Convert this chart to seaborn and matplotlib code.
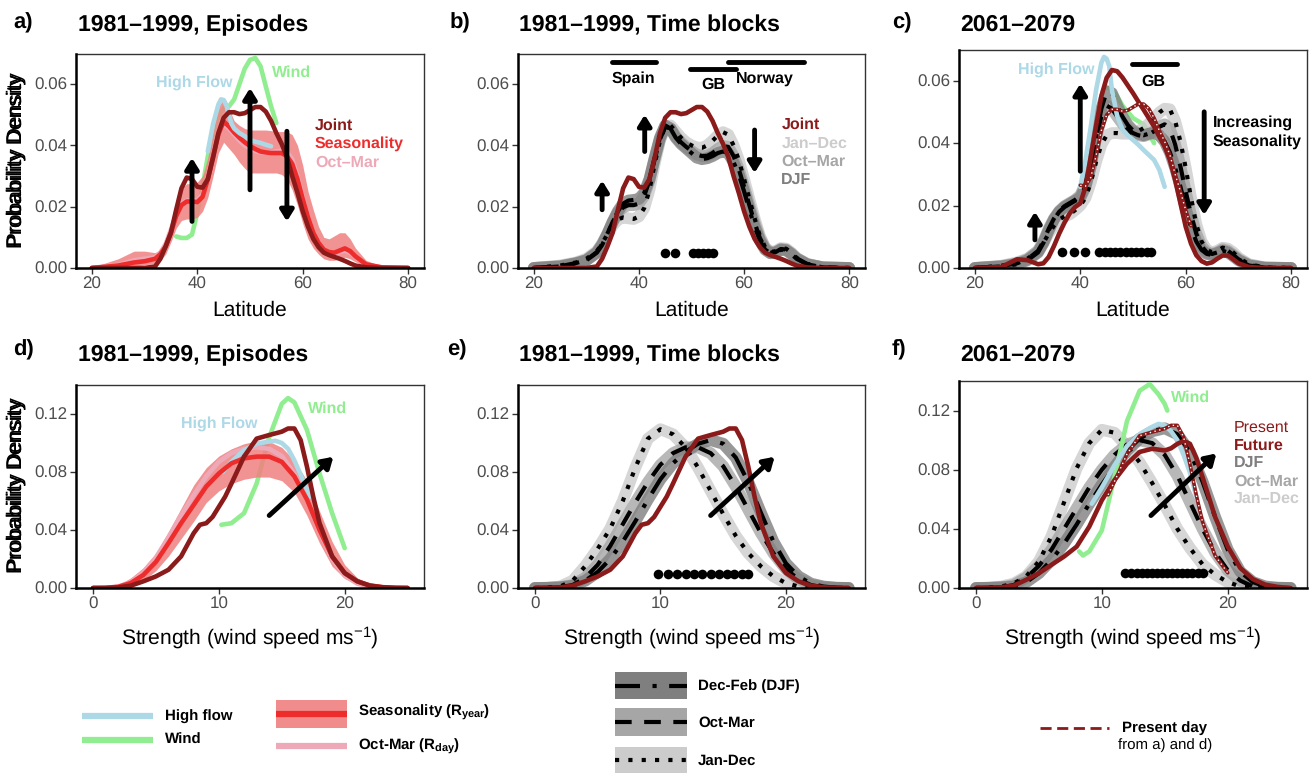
import numpy as np
import matplotlib
matplotlib.use("Agg")
import matplotlib.pyplot as plt
import seaborn as sns
from matplotlib.patches import Rectangle

sns.set_theme(style="white")
plt.rcParams['font.family'] = ['Liberation Sans', 'DejaVu Sans']
plt.rcParams['mathtext.fontset'] = 'custom'
plt.rcParams['mathtext.rm'] = 'Liberation Sans'
plt.rcParams['mathtext.it'] = 'Liberation Sans:italic'
plt.rcParams['mathtext.bf'] = 'Liberation Sans:bold'
plt.rcParams['text.color'] = 'black'
plt.rcParams['axes.labelcolor'] = 'black'
plt.rcParams['text.hinting'] = 'no_hinting'
plt.rcParams['text.hinting_factor'] = 1

# ---------------- DATA ----------------
LAT_GRID = [20, 25, 28, 30, 32, 33, 34, 35, 36, 37, 38, 39, 40, 41, 42, 43, 44, 45, 46, 47, 48, 49, 50,
            51, 52, 53, 54, 55, 56, 57, 58, 59, 60, 61, 62, 63, 64, 65, 66, 67, 68, 69, 70, 72, 75, 80]

JOINT_PRESENT_LAT = [0, 0, 0, 0, 0.0005, 0.003, 0.007, 0.0115, 0.019, 0.026, 0.0295, 0.029, 0.0265, 0.0262, 0.029,
                     0.036, 0.044, 0.049, 0.0508, 0.0508, 0.0502, 0.0505, 0.0515, 0.0525, 0.0525,
                     0.051, 0.048, 0.044, 0.0405, 0.0362, 0.030, 0.0245, 0.0185, 0.0135, 0.0095,
                     0.0068, 0.005, 0.0042, 0.0036, 0.003, 0.0023, 0.0015, 0.0008, 0.0002, 0, 0]
SEAS_LAT = [0, 0.0008, 0.0018, 0.0022, 0.003, 0.0045, 0.007, 0.0115, 0.017, 0.0205, 0.0217, 0.0217, 0.0215, 0.0232, 0.029,
            0.0365, 0.0435, 0.0478, 0.0462, 0.0442, 0.0425, 0.041, 0.0398, 0.0388, 0.038,
            0.0377, 0.0375, 0.0375, 0.0375, 0.0365, 0.034, 0.029, 0.0225, 0.0165, 0.0115,
            0.0082, 0.006, 0.0052, 0.005, 0.0057, 0.0064, 0.0055, 0.0038, 0.0012, 0.0002, 0]
SEAS_HI_LAT = [0.0002, 0.003, 0.0055, 0.0055, 0.005, 0.006, 0.0095, 0.015, 0.0215, 0.026, 0.0275, 0.0275, 0.028, 0.030, 0.036,
               0.045, 0.0525, 0.0553, 0.052, 0.048, 0.0465, 0.0455, 0.045, 0.045, 0.045,
               0.045, 0.0448, 0.0445, 0.0445, 0.0445, 0.0435, 0.040, 0.0335, 0.025, 0.019,
               0.0135, 0.010, 0.0095, 0.0105, 0.0115, 0.0115, 0.0095, 0.0065, 0.0025, 0.0005, 0]
SEAS_LO_LAT = [0, 0, 0.0005, 0.001, 0.0015, 0.0025, 0.0045, 0.0085, 0.013, 0.0155, 0.016, 0.016, 0.0165, 0.0185, 0.023,
               0.030, 0.0375, 0.041, 0.039, 0.037, 0.0345, 0.0325, 0.031, 0.031, 0.031,
               0.031, 0.031, 0.031, 0.0305, 0.029, 0.0255, 0.0205, 0.0145, 0.0095, 0.0065,
               0.0045, 0.003, 0.0025, 0.0025, 0.003, 0.0035, 0.003, 0.002, 0.0005, 0, 0]
OCTMAR_DAY_LAT = [0, 0.001, 0.0025, 0.003, 0.0035, 0.005, 0.0078, 0.0125, 0.0175, 0.021, 0.022, 0.022, 0.022, 0.024, 0.0295,
                  0.037, 0.0435, 0.047, 0.0455, 0.0435, 0.0415, 0.040, 0.039, 0.0382, 0.0377,
                  0.0376, 0.0377, 0.038, 0.0383, 0.038, 0.0355, 0.030, 0.023, 0.0165, 0.0112,
                  0.0078, 0.0058, 0.005, 0.0048, 0.0052, 0.0057, 0.005, 0.0035, 0.0011, 0.0002, 0]

HIGHFLOW_A_X = [42, 43, 44, 44.5, 45, 45.5, 46, 46.5, 47, 48, 49, 50, 51, 52, 53, 54]
HIGHFLOW_A_Y = [0.038, 0.047, 0.0533, 0.055, 0.0548, 0.0532, 0.050, 0.047, 0.0455, 0.044, 0.043, 0.0418, 0.0412, 0.0408, 0.0402, 0.0397]
WIND_A_X = [36, 37, 38, 39, 40, 41, 42, 43, 44, 45, 46, 47, 48, 49, 50, 51, 52, 53, 54, 55]
WIND_A_Y = [0.0103, 0.0098, 0.0098, 0.0109, 0.018, 0.0266, 0.0364, 0.044, 0.0495, 0.052, 0.0527, 0.055, 0.060, 0.065,
            0.0679, 0.0685, 0.0658, 0.0592, 0.0527, 0.0473]

DJF_B = [0, 0.0005, 0.0015, 0.0025, 0.005, 0.0075, 0.011, 0.015, 0.0185, 0.021, 0.022, 0.0222, 0.0225, 0.0245, 0.029,
         0.036, 0.0425, 0.0465, 0.0455, 0.0425, 0.0405, 0.039, 0.0375, 0.036, 0.0355,
         0.0358, 0.0365, 0.0375, 0.038, 0.0375, 0.0345, 0.0305, 0.025, 0.019, 0.0135,
         0.009, 0.006, 0.0048, 0.005, 0.006, 0.0058, 0.0045, 0.003, 0.0012, 0.0002, 0]
OCTMAR_B = [0, 0.0006, 0.0016, 0.0026, 0.0052, 0.0078, 0.0112, 0.015, 0.018, 0.0198, 0.0205, 0.0205, 0.021, 0.0235, 0.0285,
            0.0355, 0.042, 0.046, 0.0455, 0.043, 0.041, 0.0395, 0.0382, 0.037, 0.0365,
            0.0366, 0.0375, 0.0388, 0.0398, 0.0395, 0.0365, 0.0322, 0.0265, 0.0205, 0.0148,
            0.0098, 0.0065, 0.005, 0.0052, 0.0062, 0.006, 0.0048, 0.0032, 0.0013, 0.0002, 0]
JANDEC_B = [0, 0.0008, 0.0018, 0.003, 0.0055, 0.008, 0.011, 0.0138, 0.0158, 0.0165, 0.0162, 0.016, 0.0168, 0.0195, 0.0255,
            0.034, 0.0415, 0.0462, 0.0465, 0.0445, 0.0425, 0.041, 0.040, 0.0393, 0.0392,
            0.040, 0.0415, 0.0432, 0.0443, 0.0435, 0.040, 0.0352, 0.029, 0.0225, 0.0162,
            0.0105, 0.0068, 0.0052, 0.0055, 0.0065, 0.0063, 0.005, 0.0033, 0.0013, 0.0002, 0]

FUTURE_C = [0, 0.0003, 0.0028, 0.0025, 0.0012, 0.0015, 0.0035, 0.007, 0.011, 0.0145, 0.0175, 0.0195, 0.0207, 0.026, 0.0357,
            0.0455, 0.055, 0.0609, 0.0634, 0.063, 0.061, 0.0585, 0.056, 0.0533, 0.0507,
            0.048, 0.0453, 0.042, 0.0389, 0.0346, 0.0282, 0.0207, 0.0132, 0.0078, 0.0041,
            0.0022, 0.0014, 0.0018, 0.003, 0.004, 0.004, 0.0028, 0.0015, 0.0003, 0, 0]
DJF_C = [0, 0.0005, 0.0012, 0.0025, 0.005, 0.008, 0.012, 0.0155, 0.018, 0.0195, 0.0205, 0.0215, 0.0225, 0.026, 0.0325,
         0.042, 0.051, 0.0565, 0.056, 0.052, 0.0485, 0.0458, 0.044, 0.043, 0.0425,
         0.043, 0.0432, 0.0425, 0.0405, 0.037, 0.032, 0.026, 0.019, 0.013, 0.0085,
         0.0058, 0.0045, 0.0042, 0.0048, 0.0055, 0.005, 0.0038, 0.0025, 0.0008, 0.0001, 0]
OCTMAR_C = [0, 0.0006, 0.0015, 0.0028, 0.0055, 0.0085, 0.0125, 0.0158, 0.0182, 0.0198, 0.0208, 0.0218, 0.0232, 0.027, 0.0335,
            0.0415, 0.0485, 0.052, 0.051, 0.0485, 0.0462, 0.0445, 0.0432, 0.0425, 0.0422,
            0.0428, 0.0438, 0.0452, 0.046, 0.0445, 0.0395, 0.0325, 0.0245, 0.017, 0.011,
            0.007, 0.005, 0.0045, 0.005, 0.006, 0.0055, 0.0042, 0.0028, 0.001, 0.0001, 0]
JANDEC_C = [0, 0.0007, 0.0018, 0.003, 0.0055, 0.008, 0.011, 0.0135, 0.0155, 0.0165, 0.0172, 0.0185, 0.020, 0.0225, 0.0275,
            0.034, 0.0395, 0.0425, 0.0432, 0.0432, 0.043, 0.043, 0.0432, 0.0438, 0.0448,
            0.0462, 0.048, 0.0498, 0.051, 0.0508, 0.047, 0.0405, 0.032, 0.0225, 0.014,
            0.0085, 0.0058, 0.005, 0.0055, 0.0065, 0.0062, 0.005, 0.0033, 0.0012, 0.0002, 0]
HIGHFLOW_C_X = [40, 41, 42, 43, 44, 44.5, 45, 45.5, 46, 47, 48, 49, 50, 51, 52, 53, 54, 55, 56]
HIGHFLOW_C_Y = [0.026, 0.0346, 0.0453, 0.057, 0.0657, 0.0676, 0.067, 0.0646, 0.057, 0.0486, 0.0443, 0.0425, 0.041,
                0.0395, 0.0378, 0.0362, 0.0346, 0.0314, 0.026]
WIND_C_X = [45, 46, 47, 48, 49, 50, 51, 52, 53, 54]
WIND_C_Y = [0.058, 0.057, 0.055, 0.052, 0.050, 0.048, 0.047, 0.046, 0.043, 0.040]
PRESENT_LAT_RANGE = (40, 61)      # part of the present-day curve shown in c)
PRESENT_STR_RANGE = (10.5, 20)    # part of the present-day curve shown in f)

REGION_NAMES = ["Spain", "GB", "Norway"]
REGION_START = [34.8, 49.8, 56.9]
REGION_END = [43.3, 58.4, 71.4]
REGION_Y = [0.0671, 0.0649, 0.0671]
GB_C_START, GB_C_END, GB_C_Y = 49.8, 58.4, 0.0652

DOTS_B = [45, 46.8, 50.3, 51.2, 52.2, 53.1, 54.0]
DOTS_C = [36.6, 38.9, 40.9, 43.6, 44.6, 45.6, 46.6, 47.6, 48.6, 49.6, 50.6, 51.6, 52.6, 53.5]
DOTS_E = [9.8, 10.6, 11.3, 12.0, 12.7, 13.3, 14.0, 14.7, 15.3, 15.9, 16.5, 17.0]
DOTS_F = [11.8, 12.3, 12.8, 13.2, 13.6, 14.0, 14.4, 14.8, 15.2, 15.6, 16.0, 16.4, 16.8, 17.2, 17.6, 18.0]
DOT_Y_LAT = 0.005
DOT_Y_STR = 0.01

ARROWS_A = dict(x=[39, 50, 57], y0=[0.0152, 0.0255, 0.0446], y1=[0.0359, 0.0587, 0.0152])
ARROWS_B = dict(x=[33, 41.1, 62], y0=[0.019, 0.038, 0.045], y1=[0.0285, 0.050, 0.031])
ARROWS_C = dict(x=[31.4, 40, 63.5], y0=[0.009, 0.031, 0.050], y1=[0.018, 0.059, 0.017])
ARROW_D = dict(x0=14.0, y0=0.050, x1=19.1, y1=0.0905)
ARROW_E = dict(x0=14.0, y0=0.050, x1=19.1, y1=0.0905)
ARROW_F = dict(x0=13.9, y0=0.049, x1=19.1, y1=0.091)

STR_GRID = [0, 1, 2, 3, 4, 5, 6, 7, 8, 9, 10, 11, 12, 13, 14, 15, 16, 17, 18, 19, 20, 21, 22, 23, 24, 25]
JOINT_STR_X = [0, 1, 2, 3, 4, 5, 6, 7, 8, 8.5, 9, 9.5, 10, 10.5, 11, 12, 13, 14, 15, 15.5, 16, 16.5, 17, 17.5,
               18, 19, 20, 21, 22, 23, 24, 25]
JOINT_STR_Y = [0, 0, 0.0004, 0.0016, 0.0046, 0.008, 0.0126, 0.0218, 0.0378, 0.0436, 0.0447, 0.049, 0.056, 0.063,
               0.072, 0.0906, 0.103, 0.1055, 0.1078, 0.110, 0.110, 0.102, 0.0837, 0.063, 0.0447, 0.0218, 0.0103,
               0.0046, 0.0016, 0.0005, 0.0001, 0]
SEAS_STR = [0, 0.0001, 0.0008, 0.0034, 0.009, 0.018, 0.031, 0.0447, 0.0573, 0.070, 0.079, 0.086, 0.0894, 0.0906,
            0.0906, 0.087, 0.077, 0.061, 0.040, 0.0218, 0.0103, 0.0046, 0.0018, 0.0006, 0.0001, 0]
SEAS_HI_STR = [0, 0.0003, 0.002, 0.007, 0.014, 0.024, 0.039, 0.055, 0.071, 0.083, 0.091, 0.096, 0.0995, 0.1015,
               0.101, 0.097, 0.088, 0.074, 0.053, 0.032, 0.016, 0.007, 0.0028, 0.001, 0.0002, 0]
SEAS_LO_STR = [0, 0, 0.0003, 0.0015, 0.005, 0.012, 0.022, 0.034, 0.046, 0.059, 0.067, 0.072, 0.075, 0.0765,
               0.0765, 0.074, 0.066, 0.050, 0.031, 0.015, 0.0065, 0.0025, 0.0008, 0.0002, 0, 0]
OCTMAR_DAY_STR = [0, 0.0001, 0.001, 0.004, 0.011, 0.021, 0.035, 0.050, 0.064, 0.077, 0.087, 0.093, 0.096, 0.097,
                  0.096, 0.091, 0.079, 0.061, 0.039, 0.020, 0.0085, 0.003, 0.001, 0.0003, 0, 0]
HIGHFLOW_D_X = [10.3, 11, 12, 13, 14, 14.5, 15, 15.5, 16, 16.5, 17, 17.3]
HIGHFLOW_D_Y = [0.080, 0.087, 0.095, 0.0995, 0.101, 0.1015, 0.100, 0.096, 0.088, 0.078, 0.068, 0.063]
WIND_D_X = [10.2, 11, 12, 13, 14, 15, 15.5, 16, 17, 18, 19, 20]
WIND_D_Y = [0.0436, 0.0447, 0.0516, 0.072, 0.104, 0.127, 0.131, 0.128, 0.109, 0.079, 0.0516, 0.0275]

JANDEC_E = [0, 0.0002, 0.001, 0.005, 0.015, 0.027, 0.041, 0.060, 0.083, 0.103, 0.1095, 0.106, 0.097, 0.083,
            0.067, 0.051, 0.036, 0.024, 0.015, 0.008, 0.0034, 0.001, 0.0003, 0.0001, 0, 0]
OCTMAR_E = [0, 0.0001, 0.0006, 0.002, 0.007, 0.016, 0.029, 0.044, 0.059, 0.073, 0.085, 0.093, 0.097, 0.097,
            0.093, 0.084, 0.070, 0.054, 0.038, 0.024, 0.013, 0.006, 0.002, 0.0005, 0.0001, 0]
DJF_E = [0, 0.0001, 0.0004, 0.0015, 0.005, 0.011, 0.020, 0.032, 0.046, 0.061, 0.075, 0.086, 0.094, 0.0995,
         0.102, 0.0995, 0.090, 0.073, 0.052, 0.032, 0.017, 0.008, 0.003, 0.001, 0.0002, 0]

FUTURE_F_X = [0, 1, 2, 3, 4, 5, 6, 7, 8, 9, 10, 11, 12, 13, 14, 15, 15.5, 16, 16.5, 17, 17.5, 18, 19, 20, 21,
              22, 23, 24, 25]
FUTURE_F_Y = [0, 0.0001, 0.0005, 0.0016, 0.0056, 0.010, 0.0157, 0.0213, 0.028, 0.0415, 0.0594, 0.0729, 0.084,
              0.092, 0.0942, 0.093, 0.0945, 0.0975, 0.0995, 0.0975, 0.088, 0.075, 0.048, 0.028, 0.0135, 0.006,
              0.0022, 0.0007, 0]
JANDEC_F = [0, 0.0002, 0.001, 0.003, 0.008, 0.018, 0.035, 0.058, 0.081, 0.098, 0.107, 0.105, 0.096, 0.085,
            0.071, 0.056, 0.040, 0.027, 0.016, 0.009, 0.004, 0.001, 0.0002, 0, 0, 0]
OCTMAR_F = [0, 0.0001, 0.0005, 0.002, 0.007, 0.015, 0.026, 0.040, 0.054, 0.068, 0.080, 0.090, 0.097, 0.100,
            0.098, 0.090, 0.076, 0.058, 0.040, 0.024, 0.012, 0.005, 0.001, 0.0002, 0, 0]
DJF_F = [0, 0.0001, 0.0004, 0.001, 0.004, 0.010, 0.019, 0.030, 0.043, 0.057, 0.070, 0.082, 0.093, 0.101,
         0.106, 0.108, 0.104, 0.092, 0.072, 0.048, 0.026, 0.011, 0.004, 0.001, 0.0002, 0]
HIGHFLOW_F_X = [9.2, 10, 11, 12, 13, 14, 14.5, 15, 15.5, 16, 16.5, 17, 17.5]
HIGHFLOW_F_Y = [0.057, 0.068, 0.083, 0.096, 0.104, 0.109, 0.111, 0.110, 0.106, 0.100, 0.090, 0.078, 0.062]
WIND_F_X = [8.2, 8.5, 9, 10, 11, 12, 13, 13.8, 14.5, 15, 15.2]
WIND_F_Y = [0.0247, 0.022, 0.0247, 0.039, 0.075, 0.113, 0.1334, 0.1379, 0.131, 0.1244, 0.12]

LAT_TICKS = [20, 40, 60, 80]
LAT_YTICKS = [0.00, 0.02, 0.04, 0.06]
STR_TICKS = [0, 10, 20]
STR_YTICKS = [0.00, 0.04, 0.08, 0.12]

# ---------------- STYLE ----------------
C_HF = "#ADD8E6"
C_WIND = "#90EE90"
C_SEAS = "#EE2C2C"
C_BAND = "#F08080"
C_PINK = "#EEA9B8"
C_JOINT = "#8B1A1A"
C_DJF = "#7F7F7F"
C_OCT = "#A6A6A6"
C_JAN = "#CCCCCC"
DASH_DJF = (0, (6, 3, 1, 3))
DASH_OCT = (0, (4, 3))
DASH_JAN = (0, (1, 2.2))

W, H = 1313, 773
fig = plt.figure(figsize=(W / 100, H / 100), dpi=100)


def px_axes(left, right, top, bottom):
    return fig.add_axes([left / W, 1 - bottom / H, (right - left) / W, (bottom - top) / H])


def ln(ax, x, y, color, lw, z, dash=None, alpha=1.0, cap="round"):
    sns.lineplot(x=np.asarray(x, float), y=np.asarray(y, float), ax=ax, color=color, lw=lw,
                 estimator=None, sort=False, legend=False, zorder=z, alpha=alpha)
    line = ax.lines[-1]
    if dash is not None:
        line.set_linestyle(dash)
        line.set_dash_capstyle("butt")
    line.set_solid_capstyle(cap)
    line.set_solid_joinstyle("round")
    return line


def present_line(ax, x, y, rng):
    x = np.asarray(x, float)
    y = np.asarray(y, float)
    m = (x >= rng[0]) & (x <= rng[1])
    ln(ax, x[m], y[m], C_JOINT, 2.6, 8)
    ln(ax, x[m], y[m], "white", 1.0, 9, dash=(0, (1, 2.5)))


def style(ax, kind):
    if kind == "lat":
        ax.set_xlim(17, 83)
        ax.set_ylim(0, 0.0698)
        ax.set_xticks(LAT_TICKS)
        ax.set_yticks(LAT_YTICKS)
        ax.set_yticklabels(["%.2f" % v for v in LAT_YTICKS])
        ax.set_xlabel("Latitude", fontsize=15, color="black")
    else:
        ax.set_xlim(-1.35, 26.3)
        ax.set_ylim(0, 0.14)
        ax.set_xticks(STR_TICKS)
        ax.set_yticks(STR_YTICKS)
        ax.set_yticklabels(["%.2f" % v for v in STR_YTICKS])
        ax.set_xlabel("Strength (wind speed ms$^{-1}$)", fontsize=15, color="black")
    ax.set_ylabel("Probability Density", fontsize=15, color="black", fontweight="normal")
    ax.set_facecolor("white")
    ax.grid(False)
    for s in ["left", "bottom"]:
        ax.spines[s].set_color("black")
        ax.spines[s].set_linewidth(1.8)
        ax.spines[s].set_zorder(20)
    for s in ["top", "right"]:
        ax.spines[s].set_color("#333333")
        ax.spines[s].set_linewidth(1.0)
    ax.tick_params(axis="both", which="both", direction="out", length=4, width=1, color="#333333",
                   labelsize=12, labelcolor="#4D4D4D", left=True, bottom=True, pad=2)


def arrow(ax, x0, y0, x1, y1):
    ax.annotate("", xy=(x1, y1), xytext=(x0, y0), zorder=15,
                arrowprops=dict(arrowstyle="-|>,head_length=0.45,head_width=0.28", lw=3.5, color="black",
                                shrinkA=0, shrinkB=0, mutation_scale=14))


def label(ax, x, y, s, color, weight="bold", ha="left", size=11.5):
    ax.text(x, y, s, color=color, fontsize=size, fontweight=weight, ha=ha, va="center", zorder=16)


def grey_bands_and_lines(ax, x, djf, octm, jan):
    for y, c in [(jan, C_JAN), (octm, C_OCT), (djf, C_DJF)]:
        ln(ax, x, y, c, 8.5, 3, alpha=0.8)
    ln(ax, x, jan, "black", 3.0, 5, dash=DASH_JAN)
    ln(ax, x, octm, "black", 3.0, 5, dash=DASH_OCT)
    ln(ax, x, djf, "black", 3.0, 5, dash=DASH_DJF)


# ---------------- PANEL a ----------------
ax = px_axes(76, 424, 54, 268)
ln(ax, WIND_A_X, WIND_A_Y, C_WIND, 3.3, 2)
ax.fill_between(LAT_GRID, SEAS_LO_LAT, SEAS_HI_LAT, color=C_BAND, alpha=0.85, lw=0, zorder=3)
ln(ax, LAT_GRID, OCTMAR_DAY_LAT, C_PINK, 3.3, 4)
ln(ax, LAT_GRID, SEAS_LAT, C_SEAS, 3.3, 5)
ln(ax, HIGHFLOW_A_X, HIGHFLOW_A_Y, C_HF, 3.3, 6)
ln(ax, LAT_GRID, JOINT_PRESENT_LAT, C_JOINT, 3.3, 7)
for x, y0, y1 in zip(ARROWS_A["x"], ARROWS_A["y0"], ARROWS_A["y1"]):
    arrow(ax, x, y0, x, y1)
label(ax, 32.2, 0.0605, "High Flow", C_HF)
label(ax, 54.2, 0.0638, "Wind", C_WIND)
label(ax, 62.3, 0.0463, "Joint", C_JOINT)
label(ax, 62.3, 0.0405, "Seasonality", C_SEAS)
label(ax, 62.3, 0.0345, "Oct\u2013Mar", C_PINK)
style(ax, "lat")

# ---------------- PANEL b ----------------
ax = px_axes(518, 865, 54, 268)
grey_bands_and_lines(ax, LAT_GRID, DJF_B, OCTMAR_B, JANDEC_B)
ln(ax, LAT_GRID, JOINT_PRESENT_LAT, C_JOINT, 3.3, 7)
for x, y0, y1 in zip(ARROWS_B["x"], ARROWS_B["y0"], ARROWS_B["y1"]):
    arrow(ax, x, y0, x, y1)
for xs, xe, yv in zip(REGION_START, REGION_END, REGION_Y):
    ln(ax, [xs, xe], [yv, yv], "black", 3.5, 8)
label(ax, 39.0, 0.0617, "Spain", "black", ha="center")
label(ax, 54.1, 0.0599, "GB", "black", ha="center")
label(ax, 64.0, 0.0617, "Norway", "black", ha="center")
sns.scatterplot(x=DOTS_B, y=[DOT_Y_LAT] * len(DOTS_B), ax=ax, color="black", s=48, linewidth=0, zorder=12, legend=False)
label(ax, 67.1, 0.0466, "Joint", C_JOINT)
label(ax, 67.1, 0.0406, "Jan\u2013Dec", C_JAN)
label(ax, 67.1, 0.0346, "Oct\u2013Mar", C_OCT)
label(ax, 67.1, 0.0287, "DJF", C_DJF)
style(ax, "lat")

# ---------------- PANEL c ----------------
ax = px_axes(959, 1307, 50, 268)
ln(ax, WIND_C_X, WIND_C_Y, C_WIND, 3.3, 2)
grey_bands_and_lines(ax, LAT_GRID, DJF_C, OCTMAR_C, JANDEC_C)
ln(ax, HIGHFLOW_C_X, HIGHFLOW_C_Y, C_HF, 3.3, 6)
ln(ax, LAT_GRID, FUTURE_C, C_JOINT, 3.3, 7)
present_line(ax, LAT_GRID, JOINT_PRESENT_LAT, PRESENT_LAT_RANGE)
for x, y0, y1 in zip(ARROWS_C["x"], ARROWS_C["y0"], ARROWS_C["y1"]):
    arrow(ax, x, y0, x, y1)
ln(ax, [GB_C_START, GB_C_END], [GB_C_Y, GB_C_Y], "black", 3.5, 8)
label(ax, 53.9, 0.0598, "GB", "black", ha="center")
sns.scatterplot(x=DOTS_C, y=[DOT_Y_LAT] * len(DOTS_C), ax=ax, color="black", s=48, linewidth=0, zorder=12, legend=False)
label(ax, 28.1, 0.0637, "High Flow", C_HF)
label(ax, 65.1, 0.0466, "Increasing", "black")
label(ax, 65.1, 0.0405, "Seasonality", "black")
style(ax, "lat")

# ---------------- PANEL d ----------------
ax = px_axes(76, 424, 385, 588)
ln(ax, WIND_D_X, WIND_D_Y, C_WIND, 3.3, 2)
ax.fill_between(STR_GRID, SEAS_LO_STR, SEAS_HI_STR, color=C_BAND, alpha=0.85, lw=0, zorder=3)
ln(ax, STR_GRID, OCTMAR_DAY_STR, C_PINK, 3.3, 4)
ln(ax, HIGHFLOW_D_X, HIGHFLOW_D_Y, C_HF, 3.3, 5)
ln(ax, STR_GRID, SEAS_STR, C_SEAS, 3.3, 6)
ln(ax, JOINT_STR_X, JOINT_STR_Y, C_JOINT, 3.3, 7)
arrow(ax, ARROW_D["x0"], ARROW_D["y0"], ARROW_D["x1"], ARROW_D["y1"])
label(ax, 7.0, 0.1135, "High Flow", C_HF)
label(ax, 17.1, 0.1234, "Wind", C_WIND)
style(ax, "str")

# ---------------- PANEL e ----------------
ax = px_axes(518, 865, 385, 588)
grey_bands_and_lines(ax, STR_GRID, DJF_E, OCTMAR_E, JANDEC_E)
ln(ax, JOINT_STR_X, JOINT_STR_Y, C_JOINT, 3.3, 7)
arrow(ax, ARROW_E["x0"], ARROW_E["y0"], ARROW_E["x1"], ARROW_E["y1"])
sns.scatterplot(x=DOTS_E, y=[DOT_Y_STR] * len(DOTS_E), ax=ax, color="black", s=48, linewidth=0, zorder=12, legend=False)
style(ax, "str")

# ---------------- PANEL f ----------------
ax = px_axes(959, 1307, 381, 588)
grey_bands_and_lines(ax, STR_GRID, DJF_F, OCTMAR_F, JANDEC_F)
ln(ax, WIND_F_X, WIND_F_Y, C_WIND, 3.3, 6)
ln(ax, HIGHFLOW_F_X, HIGHFLOW_F_Y, C_HF, 3.3, 6)
ln(ax, FUTURE_F_X, FUTURE_F_Y, C_JOINT, 3.3, 7)
present_line(ax, JOINT_STR_X, JOINT_STR_Y, PRESENT_STR_RANGE)
arrow(ax, ARROW_F["x0"], ARROW_F["y0"], ARROW_F["x1"], ARROW_F["y1"])
sns.scatterplot(x=DOTS_F, y=[DOT_Y_STR] * len(DOTS_F), ax=ax, color="black", s=48, linewidth=0, zorder=12, legend=False)
label(ax, 15.5, 0.1285, "Wind", C_WIND)
label(ax, 20.5, 0.1087, "Present", C_JOINT, weight="normal")
label(ax, 20.5, 0.0964, "Future", C_JOINT)
label(ax, 20.5, 0.0845, "DJF", C_DJF)
label(ax, 20.5, 0.0722, "Oct\u2013Mar", C_OCT)
label(ax, 20.5, 0.0605, "Jan\u2013Dec", C_JAN)
style(ax, "str")

# axis label positions
for a in fig.axes:
    hpx = a.get_position().height * H
    wpx = a.get_position().width * W
    a.yaxis.set_label_coords(-(a.get_position().x0 * W - 26) / wpx, 0.5)
    off = 33 if a.get_xlabel() == "Latitude" else 36
    a.xaxis.set_label_coords(0.5, -off / hpx)

# ---------------- TITLES ----------------
titles = [("a)", 13, 23, "1981\u20131999, Episodes", 78, 25),
          ("b)", 450, 23, "1981\u20131999, Time blocks", 519, 25),
          ("c)", 892, 23, "2061\u20132079", 960, 25),
          ("d)", 13, 350, "1981\u20131999, Episodes", 78, 355),
          ("e)", 447, 350, "1981\u20131999, Time blocks", 519, 355),
          ("f)", 892, 350, "2061\u20132079", 960, 355)]
for let, lx, ly, t, tx, ty in titles:
    fig.text(lx / W, 1 - ly / H, let, fontsize=16, fontweight="bold", ha="left", va="center", color="black")
    fig.text(tx / W, 1 - ty / H, t, fontsize=16.5, fontweight="bold", ha="left", va="center", color="black")

# ---------------- LEGENDS ----------------
lg = fig.add_axes([0, 0, 1, 1], zorder=-5)
lg.set_xlim(0, W)
lg.set_ylim(H, 0)
lg.axis("off")
lg.plot([82, 153], [716, 716], color=C_HF, lw=4.5, solid_capstyle="butt")
lg.plot([82, 153], [740, 740], color=C_WIND, lw=4.5, solid_capstyle="butt")
lg.text(165, 717, "High flow", fontsize=11, fontweight="bold", va="center")
lg.text(165, 740, "Wind", fontsize=11, fontweight="bold", va="center")
lg.add_patch(Rectangle((276, 700), 71, 28, color=C_BAND, alpha=0.9, lw=0))
lg.plot([276, 347], [713.5, 713.5], color=C_SEAS, lw=4.5, solid_capstyle="butt")
lg.plot([276, 347], [746, 746], color=C_PINK, lw=4.5, solid_capstyle="butt")
lg.text(358, 712, r"Seasonality ($\mathbf{R_{year}}$)", fontsize=11, fontweight="bold", va="center")
lg.text(358, 746, r"Oct-Mar ($\mathbf{R_{day}}$)", fontsize=11, fontweight="bold", va="center")
for (y0, y1, c, d, t) in [(672, 699, C_DJF, DASH_DJF, "Dec-Feb (DJF)"),
                          (708, 736, C_OCT, DASH_OCT, "Oct-Mar"),
                          (747, 773, C_JAN, DASH_JAN, "Jan-Dec")]:
    lg.add_patch(Rectangle((615, y0), 72, y1 - y0, color=c, lw=0))
    l, = lg.plot([615, 687], [(y0 + y1) / 2, (y0 + y1) / 2], color="black", lw=3.0)
    l.set_linestyle(d)
    l.set_dash_capstyle("butt")
    lg.text(698, (y0 + y1) / 2 + 1, t, fontsize=11, fontweight="bold", va="center")
l, = lg.plot([1040, 1109], [728, 728], color=C_JOINT, lw=2.0)
l.set_linestyle((0, (4, 2)))
lg.text(1122, 728, "Present day", fontsize=11, fontweight="bold", va="center")
lg.text(1118, 745, "from a) and d)", fontsize=10.5, va="center")

fig.savefig("out.png", dpi=100, facecolor="white")
